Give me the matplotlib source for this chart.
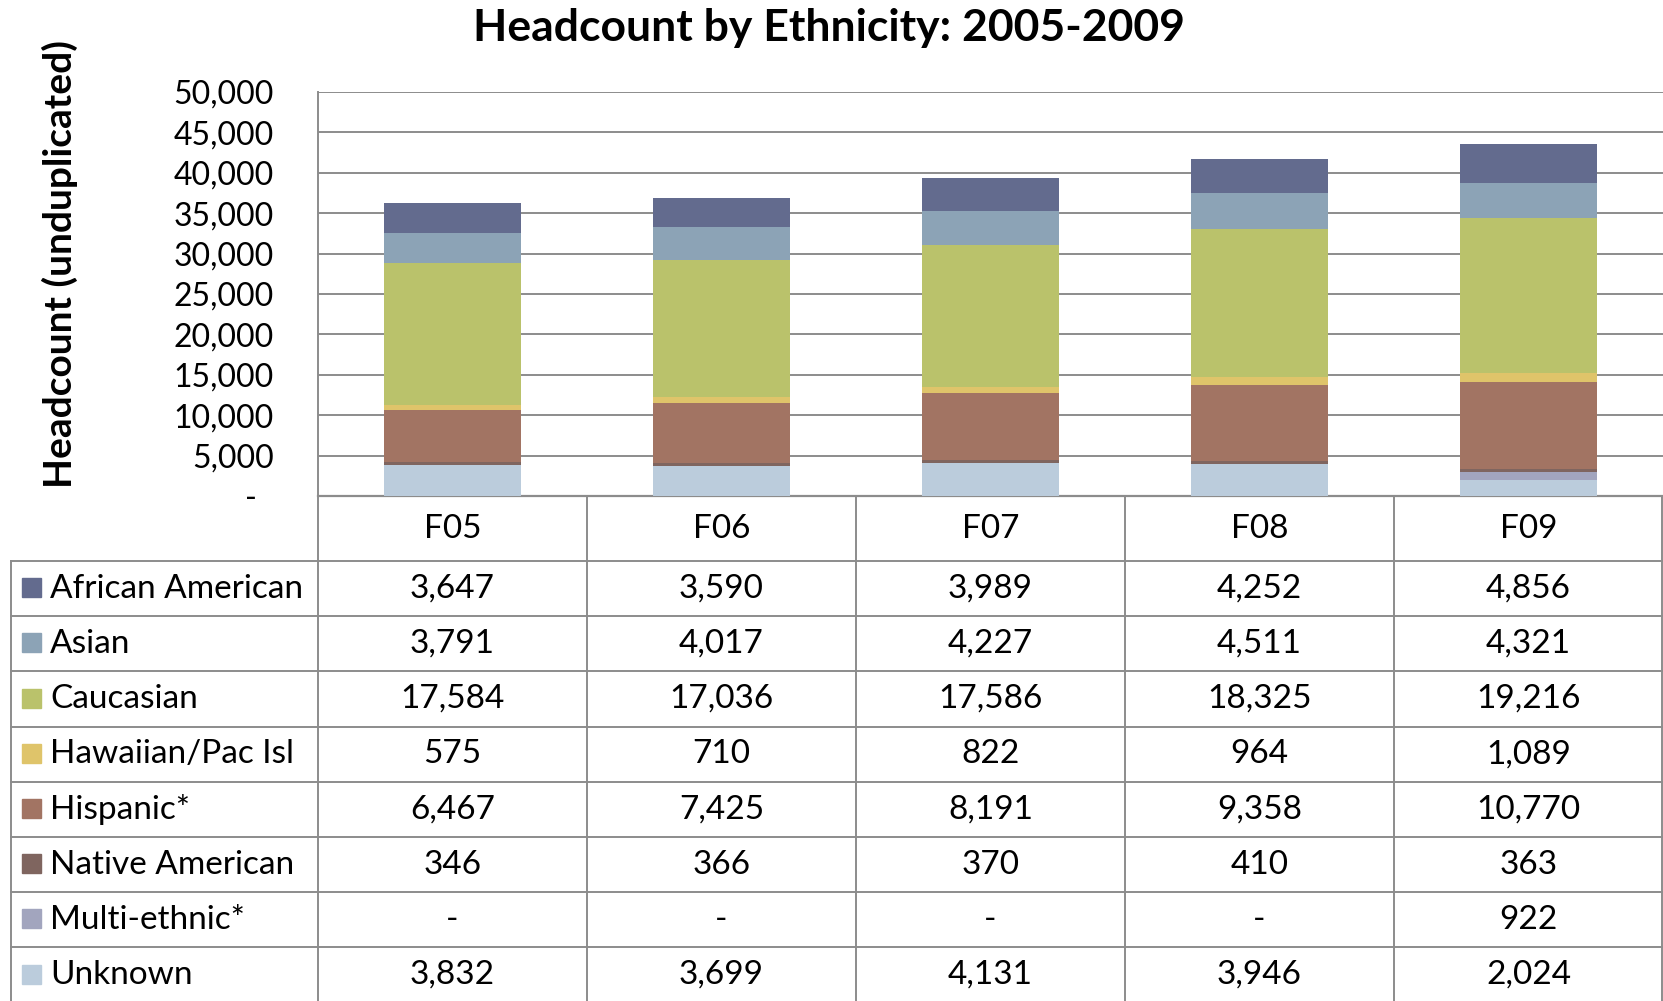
import numpy as np
import matplotlib.pyplot as plt
from matplotlib.patches import Rectangle
from matplotlib.ticker import FixedLocator, FuncFormatter

plt.rcParams['font.family'] = ['Lato', 'DejaVu Sans']

# data
years = ['F05', 'F06', 'F07', 'F08', 'F09']
african_american = [3647, 3590, 3989, 4252, 4856]
asian = [3791, 4017, 4227, 4511, 4321]
caucasian = [17584, 17036, 17586, 18325, 19216]
hawaiian = [575, 710, 822, 964, 1089]
hispanic = [6467, 7425, 8191, 9358, 10770]
native_american = [346, 366, 370, 410, 363]
multi_ethnic = [0, 0, 0, 0, 922]
unknown = [3832, 3699, 4131, 3946, 2024]

# table order (top row first); bars stack in the reverse order
labels = ['African American', 'Asian', 'Caucasian', 'Hawaiian/Pac Isl',
          'Hispanic*', 'Native American', 'Multi-ethnic*', 'Unknown']
series = [african_american, asian, caucasian, hawaiian,
          hispanic, native_american, multi_ethnic, unknown]
colors = ['#636B8E', '#8CA3B6', '#BAC26B', '#DFC46A',
          '#A27463', '#7F655F', '#A2A5BE', '#BBCCDC']

W, H = 1663, 1001
fig = plt.figure(figsize=(W / 100, H / 100), dpi=100)

line_gray = '#8c8c8c'
fs = 24

# layout in pixels
left, right = 318, 1663
top, bottom = 92, 496
header_bot = 561
row_h = 55.2
label_left = 10.6

# table layer, pixel coordinates
tax = fig.add_axes([0, 0, 1, 1])
tax.set_xlim(0, W)
tax.set_ylim(H, 0)
tax.axis('off')

# chart
ax = fig.add_axes([left / W, 1 - bottom / H, (right - left) / W, (bottom - top) / H])
ax.set_facecolor('none')
x = np.arange(len(years))
base = np.zeros(len(years))
for vals, col in zip(series[::-1], colors[::-1]):
    ax.bar(x, vals, 0.51, bottom=base, color=col, zorder=3)
    base += np.array(vals)

ax.set_xlim(-0.5, len(years) - 0.5)
ax.set_ylim(0, 50000)
ax.yaxis.set_major_locator(FixedLocator(np.arange(0, 50001, 5000)))
ax.yaxis.set_major_formatter(FuncFormatter(lambda v, p: '-  ' if v == 0 else f'{int(v):,}'))
ax.tick_params(axis='y', length=0, pad=32, labelsize=23)
ax.set_xticks([])
ax.grid(axis='y', color=line_gray, linewidth=1.4, zorder=0)
for s in ['top', 'right']:
    ax.spines[s].set_visible(False)
ax.spines['left'].set_color(line_gray)
ax.spines['left'].set_linewidth(1.4)
ax.spines['bottom'].set_color(line_gray)
ax.spines['bottom'].set_linewidth(1.6)
ax.set_ylabel('Headcount (unduplicated)', fontsize=28, fontweight='bold')
ax.yaxis.set_label_coords(-(left - 78) / (right - left), 0.575)

fig.text(829 / W, 1 - 28 / H, 'Headcount by Ethnicity: 2005-2009',
         ha='center', va='center', fontsize=32, fontweight='bold')

# table grid
col_w = (right - left) / len(years)
col_edges = [left + i * col_w for i in range(len(years) + 1)]
row_edges = [header_bot + i * row_h for i in range(len(labels) + 1)]
lw = 1.4
for cx in col_edges[:-1]:
    tax.plot([cx, cx], [bottom, H], color=line_gray, lw=lw)
tax.plot([right - 1, right - 1], [bottom, H], color=line_gray, lw=lw)
tax.plot([label_left, label_left], [header_bot, H], color=line_gray, lw=lw)
for ry in row_edges[:-1]:
    tax.plot([label_left, right], [ry, ry], color=line_gray, lw=lw)

# header
for i, yr in enumerate(years):
    tax.text(col_edges[i] + col_w / 2, (bottom + header_bot) / 2, yr,
             ha='center', va='center', fontsize=fs)

# rows
sq = 19
for r, (lab, vals, col) in enumerate(zip(labels, series, colors)):
    cy = row_edges[r] + row_h / 2
    tax.add_patch(Rectangle((21.5, cy - sq / 2 - 1), sq, sq, color=col))
    tax.text(50, cy, lab, ha='left', va='center', fontsize=fs)
    for i, v in enumerate(vals):
        txt = '-' if v == 0 else f'{v:,}'
        tax.text(col_edges[i] + col_w / 2, cy, txt, ha='center', va='center', fontsize=fs)

fig.savefig('out.png', dpi=100)
